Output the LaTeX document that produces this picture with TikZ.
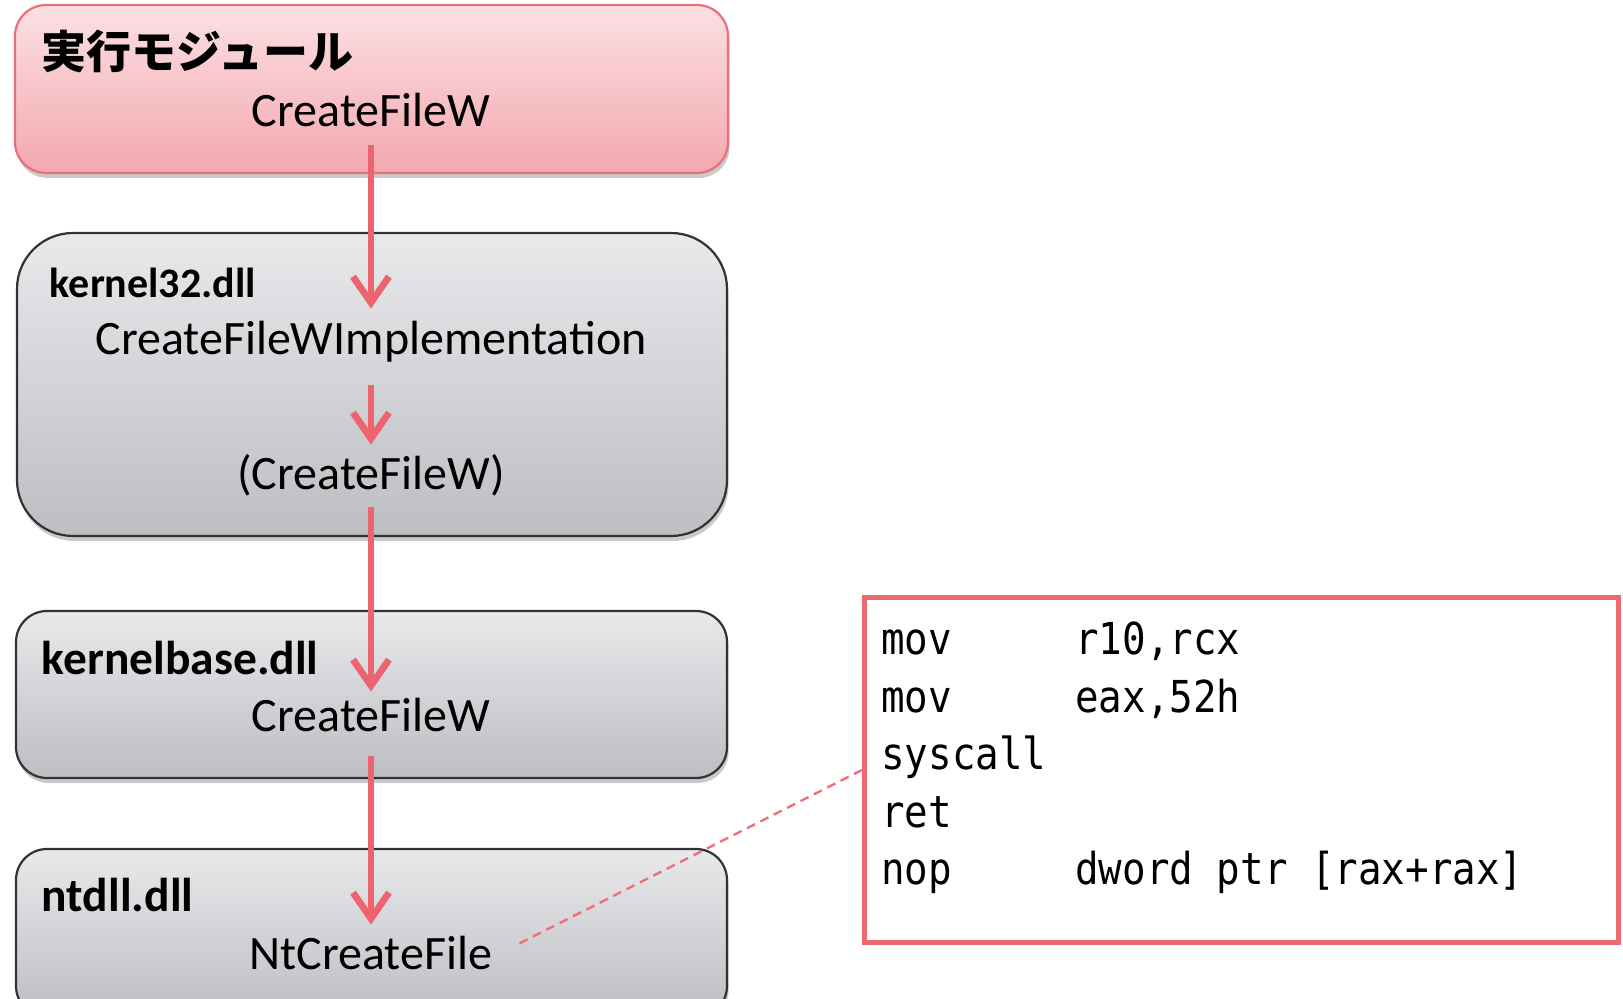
\documentclass[tikz,border=0pt]{standalone}
\usepackage{fontspec}
\setmainfont{Carlito}
\newfontfamily\jpfont{Noto Sans CJK JP}
\newfontfamily\codefont{DejaVu Sans Mono}[FakeStretch=0.89]
\usetikzlibrary{arrows.meta,shadows}
\definecolor{arrowred}{RGB}{236,100,112}
\definecolor{codered}{RGB}{238,104,114}
\definecolor{dashred}{RGB}{240,112,122}
\definecolor{pinktop}{RGB}{251,224,227}
\definecolor{pinkbot}{RGB}{243,168,174}
\definecolor{pinkedge}{RGB}{232,112,122}
\definecolor{graytop}{RGB}{232,233,235}
\definecolor{graybot}{RGB}{188,190,194}
\definecolor{grayedge}{RGB}{50,50,52}
\tikzset{
  block/.style={rounded corners=15.5pt, line width=1.1pt, inner sep=0pt,
    drop shadow={shadow xshift=0.8pt, shadow yshift=-2.5pt, opacity=0.3, fill=black!70}},
  pinkblock/.style={block, draw=pinkedge, top color=pinktop, bottom color=pinkbot},
  grayblock/.style={block, draw=grayedge, top color=graytop, bottom color=graybot},
  centertxt/.style={anchor=base, inner sep=0pt, text height=18pt, text depth=6pt,
    font=\fontsize{24pt}{28pt}\selectfont},
  labeltxt/.style={anchor=base west, inner sep=0pt, font=\bfseries\fontsize{23.75pt}{28pt}\selectfont},
  flow/.style={draw=arrowred, line width=3.4pt,
    -{Straight Barb[length=13pt,width=18pt]}},
  linkline/.style={draw=dashred, line width=1.2pt, dash pattern=on 4.5pt off 3pt},
}
\begin{document}
\begin{tikzpicture}[x=0.5pt, y=-0.5pt]
\useasboundingbox (0,0) rectangle (1623,999);
\begin{scope}
\clip (0,0) rectangle (1623,999);
% blocks
\node[pinkblock, minimum width=356.5pt, minimum height=84pt] (exe) at (371.5,89) {};
\node[grayblock, rounded corners=28pt, minimum width=355pt, minimum height=151.5pt] (k32) at (372,384.5) {};
\node[grayblock, minimum width=355.5pt, minimum height=83.5pt] (kb) at (371.5,694.5) {};
\node[grayblock, minimum width=355.5pt, minimum height=84pt] (nt) at (371.5,933) {};
% block labels
\node[labeltxt, font=\jpfont\bfseries\fontsize{22.5pt}{26pt}\selectfont] (exel) at (41,69) {実行モジュール};
\node[labeltxt, font=\bfseries\fontsize{21pt}{25pt}\selectfont] (k32l) at (49.5,298) {kernel32.dll};
\node[labeltxt] (kbl) at (41.5,675) {kernelbase.dll};
\node[labeltxt] (ntl) at (41.5,911) {ntdll.dll};
% function names
\node[centertxt] (t1) at (371,127) {CreateFileW};
\node[centertxt] (t2) at (371,355) {CreateFileWImplementation};
\node[centertxt] (t3) at (371,490) {(CreateFileW)};
\node[centertxt] (t4) at (371,732) {CreateFileW};
\node[centertxt] (t5) at (371,969) {NtCreateFile};
% flow arrows
\draw[flow, shorten <=3pt, shorten >=5pt] (t1.south) -- (t2.north);
\draw[flow, shorten <=9pt, shorten >=4.5pt] (t2.south) -- (t3.north);
\draw[flow, shorten <=2.5pt, shorten >=2pt] (t3.south) -- (t4.north);
\draw[flow, shorten <=6pt, shorten >=4pt] (t4.south) -- (t5.north);
% code box
\node[draw=codered, line width=2.5pt, fill=white, minimum width=377pt, minimum height=172.5pt, inner sep=0pt] (code) at (1241.5,770) {};
\node[anchor=base west, inner sep=0pt, font=\codefont\fontsize{22pt}{28.75pt}\selectfont] (asm) at (881,655)
{\def\arraystretch{1}\begin{tabular}[t]{@{}p{97pt}@{}l@{}}
mov & r10,rcx\\
mov & eax,52h\\
syscall & \\
ret & \\
nop & dword ptr [rax+rax]
\end{tabular}};
\draw[linkline, shorten <=15pt] (t5.east) -- (code.west);
\end{scope}
\end{tikzpicture}
\end{document}
